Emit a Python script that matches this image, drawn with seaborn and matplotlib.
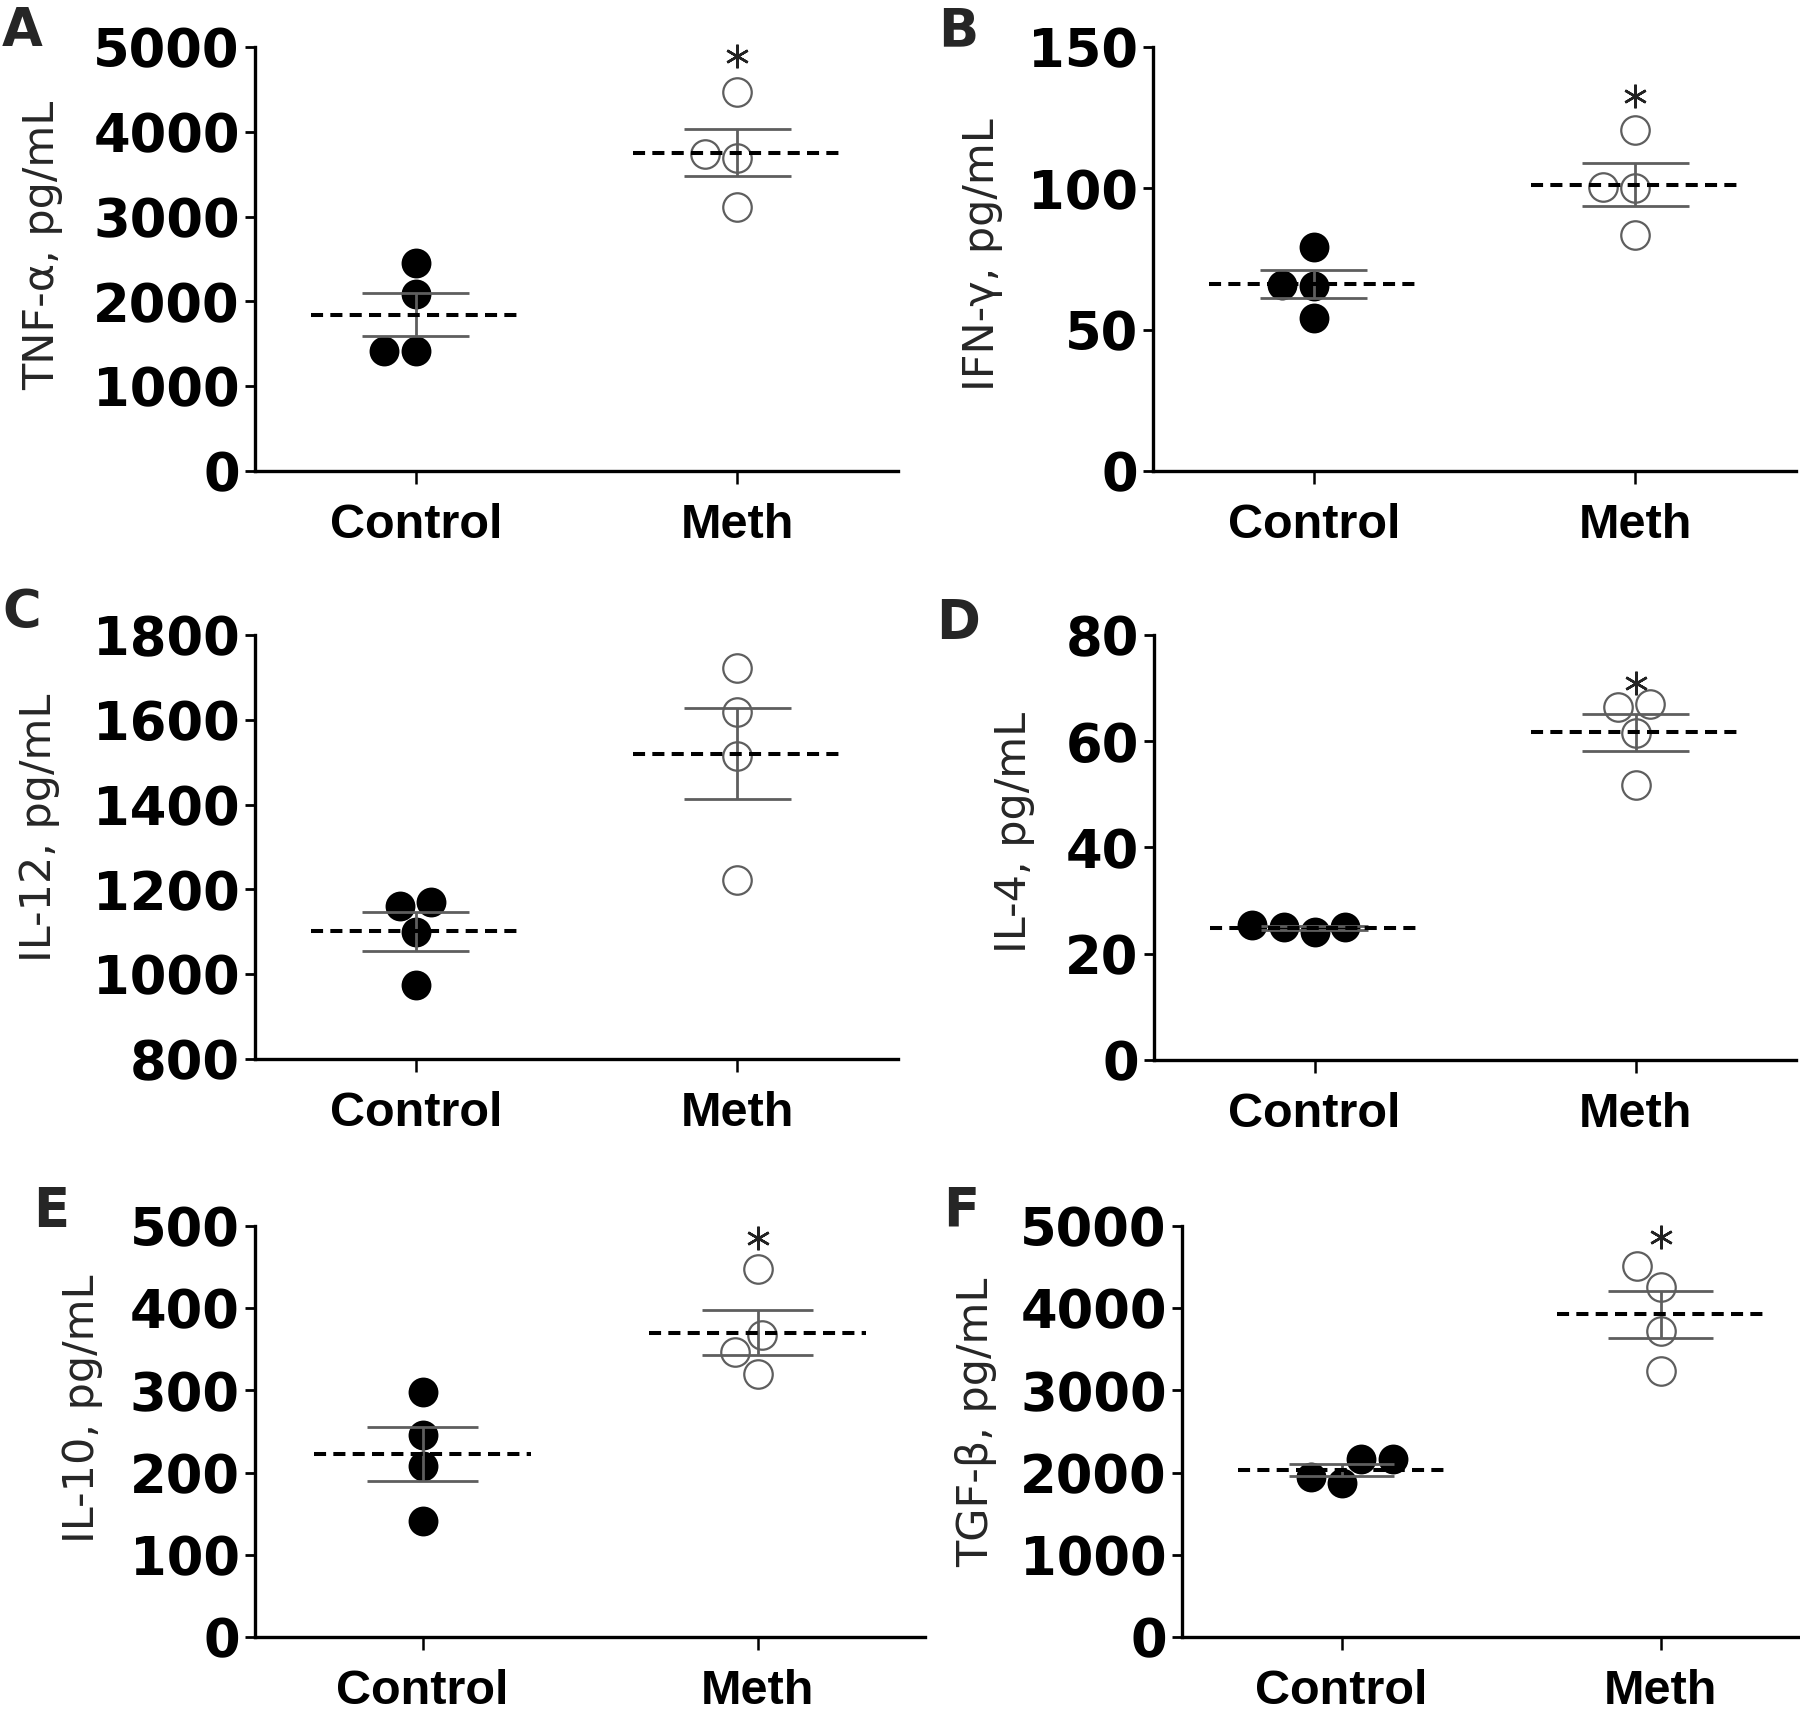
import numpy as np
import pandas as pd
import matplotlib
matplotlib.use("Agg")
import matplotlib.pyplot as plt
import seaborn as sns

# ---------------- data ----------------
groups = ["Control", "Meth"]

tnf_control = [2450, 2092, 1420, 1420]
tnf_meth = [4475, 3739, 3689, 3109]
ifn_control = [79.2, 65.9, 65.3, 54.2]
ifn_meth = [120.8, 100.6, 100.0, 83.6]
il12_control = [1160, 1170, 1099, 974]
il12_meth = [1722, 1619, 1515, 1223]
il4_control = [25.0, 24.0, 25.0, 25.5]
il4_meth = [66.4, 67.0, 61.6, 51.7]
il10_control = [297.6, 245.2, 208.3, 141.2]
il10_meth = [447.2, 367.6, 346.6, 319.8]
tgf_control = [2160, 1878, 1950, 2160]
tgf_meth = [4513, 4252, 3718, 3231]

panel_letters = ["A", "B", "C", "D", "E", "F"]
y_labels = ["TNF-α, pg/mL", "IFN-γ, pg/mL", "IL-12, pg/mL",
            "IL-4, pg/mL", "IL-10, pg/mL", "TGF-β, pg/mL"]
y_ticks = [[0, 1000, 2000, 3000, 4000, 5000],
           [0, 50, 100, 150],
           [800, 1000, 1200, 1400, 1600, 1800],
           [0, 20, 40, 60, 80],
           [0, 100, 200, 300, 400, 500],
           [0, 1000, 2000, 3000, 4000, 5000]]
significance_y = [4894, 132.5, None, 70.9, 486, 4862]   # "*" above Meth

controls = [tnf_control, ifn_control, il12_control, il4_control, il10_control, tgf_control]
meths = [tnf_meth, ifn_meth, il12_meth, il4_meth, il10_meth, tgf_meth]

# ---------------- layout ----------------
W, H = 1800, 1712
# (left, top, right, bottom) in pixels
rects_px = [(255, 47, 898, 471), (1153, 47, 1796, 471),
            (255, 635, 898, 1059), (1154, 635, 1796, 1060),
            (255, 1226, 925, 1637), (1182, 1226, 1820, 1637)]
ylabel_coords = [(-0.299, 0.533), (-0.233, 0.51), (-0.303, 0.545),
                 (-0.185, 0.536), (-0.227, 0.555), (-0.29, 0.523)]
letter_px = [(2, 46), (938, 46), (2, 628), (936, 638), (33, 1226), (943, 1226)]

sns.set_style("ticks")
plt.rcParams["font.family"] = ["DejaVu Sans"]

fig = plt.figure(figsize=(W / 100, H / 100), dpi=100)
fig.patch.set_facecolor("white")

gray = "#5e5e5e"

for k in range(6):
    l, t, r, b = rects_px[k]
    ax = fig.add_axes([l / W, 1 - b / H, (r - l) / W, (b - t) / H])
    ax.set_facecolor("white")

    df_c = pd.DataFrame({"group": groups[0], "value": controls[k]})
    df_m = pd.DataFrame({"group": groups[1], "value": meths[k]})

    sns.swarmplot(data=df_c, x="group", y="value", order=groups, ax=ax,
                  color="black", size=21.5, linewidth=0, zorder=3, clip_on=False)
    sns.swarmplot(data=df_m, x="group", y="value", order=groups, ax=ax,
                  color="white", edgecolor=gray, size=20.5, linewidth=1.6,
                  zorder=3, clip_on=False)

    for i, vals in enumerate([controls[k], meths[k]]):
        v = np.asarray(vals, dtype=float)
        m = v.mean()
        se = v.std(ddof=1) / np.sqrt(len(v))
        ax.plot([i, i], [m - se, m + se], color=gray, lw=2.0, zorder=4,
                solid_capstyle="butt")
        for yy in (m - se, m + se):
            ax.plot([i - 0.166, i + 0.166], [yy, yy], color=gray, lw=2.0,
                    zorder=4, solid_capstyle="butt")
        ax.plot([i - 0.325, i + 0.325], [m, m], color="black", lw=2.9,
                ls=(0, (3, 1.8)), zorder=5)

    if significance_y[k] is not None:
        ax.plot([1], [significance_y[k]], marker=(6, 2, 0), ms=17, mew=1.8,
                color="#222222", ls="none", clip_on=False, zorder=6)

    ax.set_xlim(-0.5, 1.5)
    ax.set_ylim(y_ticks[k][0], y_ticks[k][-1])
    ax.set_yticks(y_ticks[k])
    ax.set_yticklabels([str(v) for v in y_ticks[k]], fontsize=38,
                       fontweight="bold", family="DejaVu Sans")
    ax.set_xticks([0, 1])
    ax.set_xticklabels(groups, fontsize=35, fontweight="bold",
                       family="Liberation Sans")
    ax.set_xlabel("")
    ax.set_ylabel(y_labels[k], fontsize=31, family="DejaVu Sans")
    ax.yaxis.set_label_coords(*ylabel_coords[k])

    for s in ["top", "right"]:
        ax.spines[s].set_visible(False)
    for s in ["left", "bottom"]:
        ax.spines[s].set_linewidth(2.4)
        ax.spines[s].set_color("black")
    ax.tick_params(axis="y", direction="out", length=7, width=2.0, pad=4,
                   colors="black")
    ax.tick_params(axis="x", direction="out", length=9, width=1.8, pad=14,
                   colors="black")

    lx, ly = letter_px[k]
    fig.text(lx / W, 1 - ly / H, panel_letters[k], fontsize=38,
             fontweight="bold", family="DejaVu Sans", ha="left", va="baseline")

fig.savefig("out.png", dpi=100, facecolor="white")
